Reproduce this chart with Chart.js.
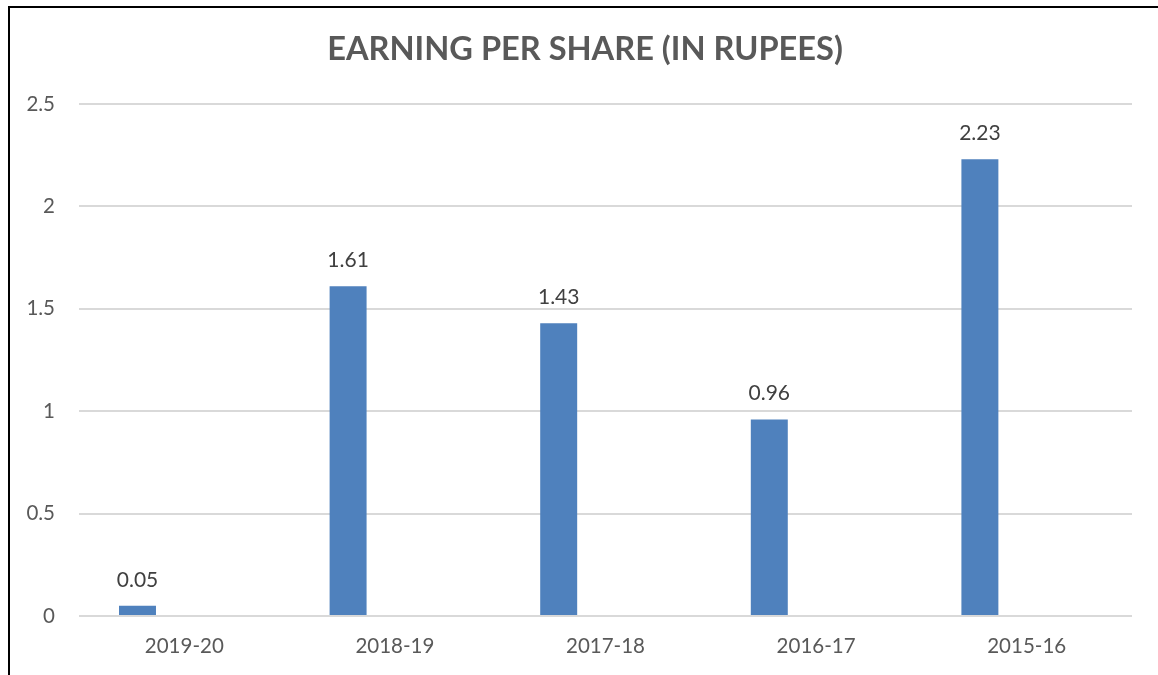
<!DOCTYPE html>
<html>
<head>
<meta charset="utf-8">
<script src="https://cdn.jsdelivr.net/npm/chart.js@4/dist/chart.umd.min.js"></script>
<style>
  html, body { margin: 0; padding: 0; background: #ffffff; }
  #wrap { position: relative; width: 1158px; height: 675px; overflow: hidden; }
  #frame { position: absolute; left: 8px; top: 6px; width: 2000px; height: 2000px;
           border-left: 2px solid #000; border-top: 2px solid #000; box-sizing: border-box; }
  canvas { position: absolute; left: 0; top: 0; }
</style>
</head>
<body>
<div id="wrap">
  <div id="frame"></div>
  <canvas id="c" width="1158" height="675"></canvas>
</div>
<script>
const titleText = "EARNING PER SHARE (IN RUPEES)";
const categories = ["2019-20", "2018-19", "2017-18", "2016-17", "2015-16"];
const epsValues = [0.05, 1.61, 1.43, 0.96, 2.23];
const emptySeries = [null, null, null, null, null];
const yTicks = [0, 0.5, 1, 1.5, 2, 2.5];

const FONT = "Lato, 'Open Sans', sans-serif";

const dataLabels = {
  id: 'dataLabels',
  afterDatasetsDraw(chart) {
    const ctx = chart.ctx;
    const meta = chart.getDatasetMeta(0);
    ctx.save();
    ctx.font = "21px " + FONT;
    ctx.fillStyle = "#404040";
    ctx.textAlign = "center";
    ctx.textBaseline = "middle";
    meta.data.forEach((bar, i) => {
      ctx.fillText(String(epsValues[i]), bar.x, bar.y - 26);
    });
    ctx.restore();
  }
};

const chartTitle = {
  id: 'chartTitle',
  afterDraw(chart) {
    const ctx = chart.ctx;
    ctx.save();
    ctx.font = "bold 32.6px " + FONT;
    ctx.fillStyle = "#595959";
    ctx.textAlign = "center";
    ctx.textBaseline = "middle";
    ctx.fillText(titleText, 585, 49);
    ctx.restore();
  }
};

new Chart(document.getElementById('c'), {
  type: 'bar',
  data: {
    labels: categories,
    datasets: [
      { label: 'EPS', data: epsValues, backgroundColor: '#4F81BD',
        barPercentage: 0.395, categoryPercentage: 0.889 },
      { label: '', data: emptySeries, backgroundColor: '#C0504D',
        barPercentage: 0.395, categoryPercentage: 0.889 }
    ]
  },
  options: {
    responsive: false,
    animation: false,
    devicePixelRatio: 1,
    layout: { padding: { left: 0, right: 26, top: 104, bottom: 0 } },
    plugins: {
      legend: { display: false },
      tooltip: { enabled: false },
      title: { display: false }
    },
    scales: {
      x: {
        grid: { display: false, drawTicks: false },
        border: { display: false },
        ticks: { color: '#595959', font: { family: FONT, size: 20.5 }, padding: 18 },
        afterFit(scale) { scale.height = 59; }
      },
      y: {
        min: 0, max: 2.5,
        afterBuildTicks(scale) { scale.ticks = yTicks.map(v => ({ value: v })); },
        grid: { color: '#D9D9D9', lineWidth: 2, drawTicks: false },
        border: { display: false },
        ticks: { color: '#595959', font: { family: FONT, size: 20.5 }, padding: 24,
                 callback: (v) => String(v) },
        afterFit(scale) { scale.width = 79; }
      }
    }
  },
  plugins: [dataLabels, chartTitle]
});
</script>
</body>
</html>
